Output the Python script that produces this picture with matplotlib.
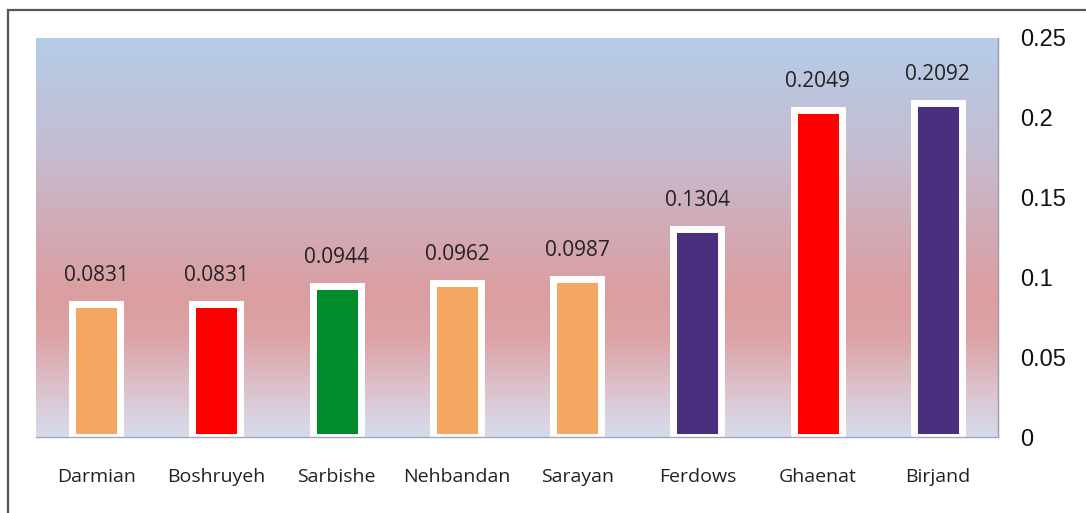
import numpy as np
import matplotlib.pyplot as plt
from matplotlib.colors import LinearSegmentedColormap
from matplotlib.patches import Rectangle

categories = ["Darmian", "Boshruyeh", "Sarbishe", "Nehbandan", "Sarayan", "Ferdows", "Ghaenat", "Birjand"]
values = [0.0831, 0.0831, 0.0944, 0.0962, 0.0987, 0.1304, 0.2049, 0.2092]
bar_colors = ["#f5a862", "#ff0000", "#008c2c", "#f5a862", "#f5a862", "#4a2f7e", "#ff0000", "#4a2f7e"]
yticks = [0, 0.05, 0.1, 0.15, 0.2, 0.25]
ytick_labels = ["0", "0.05", "0.1", "0.15", "0.2", "0.25"]

W, H = 1086, 513
fig = plt.figure(figsize=(W / 100, H / 100), dpi=100)
fig.patch.set_facecolor("white")

# outer border
fig.patches.append(Rectangle((8 / W, -0.05), 1.2, (H - 10) / H + 0.05, transform=fig.transFigure,
                             fill=False, edgecolor="#555555", linewidth=1.6, zorder=0))

ax = fig.add_axes([36 / W, 76 / H, 962 / W, 399 / H])
ax.set_xlim(-0.5, len(categories) - 0.5)
ax.set_ylim(0, 0.25)

# gradient background
stops = [(0.0, (0.84, 0.86, 0.93)),
         (0.12, (0.86, 0.76, 0.80)),
         (0.25, (0.86, 0.64, 0.65)),
         (0.35, (0.86, 0.62, 0.63)),
         (0.50, (0.83, 0.66, 0.70)),
         (0.72, (0.77, 0.74, 0.82)),
         (1.0, (0.71, 0.80, 0.91))]
cmap = LinearSegmentedColormap.from_list("bg", stops)
grad = np.linspace(0, 1, 256).reshape(-1, 1)
ax.imshow(grad, cmap=cmap, origin="lower", aspect="auto",
          extent=[-0.5, len(categories) - 0.5, 0, 0.25], zorder=0)

x = np.arange(len(categories))
ax.bar(x, values, width=0.4, color=bar_colors, edgecolor="white", linewidth=5, zorder=2)

for xi, v in zip(x, values):
    ax.annotate(f"{v:.4f}", (xi, v), xytext=(0, 13), textcoords="offset points",
                ha="center", va="bottom", fontsize=15, color="#222222", family="Open Sans")

ax.set_xticks(x)
ax.set_xticklabels(categories, fontsize=14, family="Open Sans", color="#222222")
ax.tick_params(axis="x", length=0, pad=22)

ax.yaxis.tick_right()
ax.set_yticks(yticks)
ax.set_yticklabels(ytick_labels, fontsize=17, family="Liberation Sans", color="#111111")
ax.tick_params(axis="y", length=0, pad=16)

for s in ["top", "left"]:
    ax.spines[s].set_visible(False)
ax.spines["right"].set_color("#9a9aaa")
ax.spines["right"].set_linewidth(1.0)
ax.spines["bottom"].set_color("#a0a8b8")
ax.spines["bottom"].set_linewidth(1.0)

fig.savefig("out.png", dpi=100, facecolor="white")
